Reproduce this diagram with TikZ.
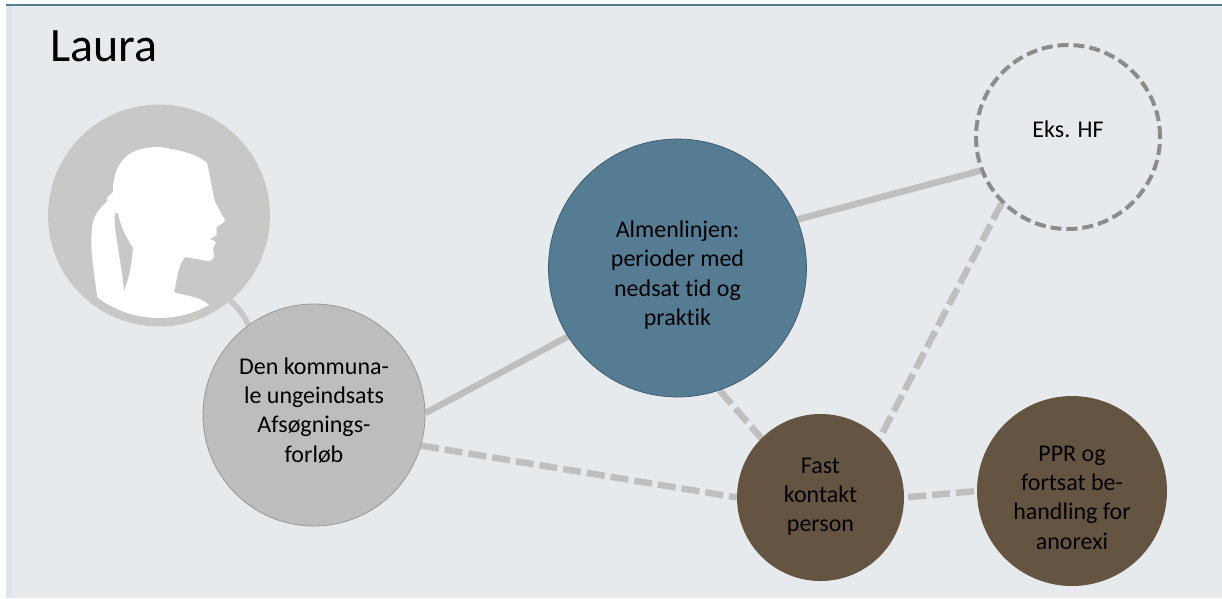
\documentclass[tikz,border=0pt]{standalone}
\usepackage{fontspec}
\usetikzlibrary{backgrounds}
\setmainfont[RawFeature=-liga;-clig]{Carlito}
\definecolor{bgc}{HTML}{E7EAED}
\definecolor{stripc}{HTML}{DCE5EC}
\definecolor{topc}{HTML}{567C94}
\definecolor{linec}{HTML}{BFBFBF}
\definecolor{personc}{HTML}{C8C8C6}
\definecolor{denc}{HTML}{BDBDBD}
\definecolor{brownc}{HTML}{655442}
\definecolor{dashc}{HTML}{8C8C8C}
\newcommand\nudged[2]{\raisebox{\dimexpr#1pt-2.5pt\relax}[0pt][0pt]{\begin{tabular}{@{}c@{}}#2\end{tabular}}}
\tikzset{
  x=1pt,y=-1pt,
  conn/.style={draw=linec,line width=6.5pt},
  connd/.style={conn,dash pattern=on 18pt off 6pt},
  bubble/.style={circle,inner sep=0pt,font=\fontsize{24}{29.3}\selectfont,text=black,minimum size=#1},
}
\begin{document}
\begin{tikzpicture}
\useasboundingbox (0,0) rectangle (1222,598);
\begin{scope}[on background layer]
\fill[white] (0,0) rectangle (1222,598);
\fill[bgc] (6,6) rectangle (1222,598);
\fill[stripc] (6,6) rectangle (12,598);
\fill[topc] (6,3.6) rectangle (1222,6);
\end{scope}
\node[font=\fontsize{48}{50}\selectfont,anchor=base west,inner sep=0pt] (title) at (50,61.5) {Laura};
\node[bubble=222pt,fill=personc] (laura) at (159,215.5) {};
\begin{scope}
\clip (159,215.5) circle (102.5);
\fill[white,even odd rule] (97.3,297.7) .. controls (94,270) and (90,250) .. (91.7,233)
 .. controls (92,222) and (94,213) .. (106.7,202) -- (107.5,197) -- (113,192)
 .. controls (113,175) and (118,163) .. (128,155)
 .. controls (138,148) and (150,147) .. (160,147)
 .. controls (178,150) and (196,153) .. (207,163)
 .. controls (210,175) and (212,190) .. (215,202) -- (225,220)
 .. controls (224,224) and (218,225) .. (216.7,227) -- (216.7,235) -- (210,239) -- (216,242) -- (213,248) -- (214,257)
 .. controls (213,260) and (210,261) .. (208,261) -- (185,257)
 .. controls (178,265) and (177,280) .. (174,292)
 .. controls (185,296) and (200,296) .. (209,305)
 -- (209,340) -- (97.3,340) -- cycle
 (115,213) -- (118,213) .. controls (120,225) and (125,235) .. (133,248)
 .. controls (132,262) and (129,280) .. (124,291)
 .. controls (122,265) and (113,230) .. (115,213) -- cycle;
\end{scope}
\node[bubble=222pt,fill=denc,draw=gray!80,line width=.8pt] (den) at (314,415) {\nudged{-1}{Den kommuna-\\le ungeindsats\\Afsøgnings-\\forløb}};
\node[bubble=258pt,fill=topc,draw=topc!70!black,line width=.7pt] (almen) at (677.5,268) {\nudged{-11.5}{Almenlinjen:\\perioder med\\nedsat tid og\\praktik}};
\node[bubble=167pt,fill=brownc] (fast) at (820.5,497.5) {\nudged{-3}{Fast\\kontakt\\person}};
\node[bubble=190pt,fill=brownc] (ppr) at (1072,491) {\nudged{-12}{PPR og\\fortsat be-\\handling for\\anorexi}};
\node[bubble=184pt,draw=dashc,line width=4pt,dash pattern=on 11pt off 5pt] (eks) at (1068,137) {\nudged{2}{Eks. HF}};
\begin{scope}[on background layer]
\draw[draw=personc,line width=5.5pt] (laura.-50) to[bend left=10] (den.126);
\draw[conn] (den.1.5) -- (almen.212);
\draw[conn] (almen.22) -- (eks.201);
\draw[connd] (den.-16) -- (fast.180);
\draw[connd] (almen.-71) -- (fast.135);
\draw[connd] (eks.225) -- (fast.45);
\draw[connd,shorten <=4pt] (fast.0) -- (ppr.180);
\end{scope}
\end{tikzpicture}
\end{document}
